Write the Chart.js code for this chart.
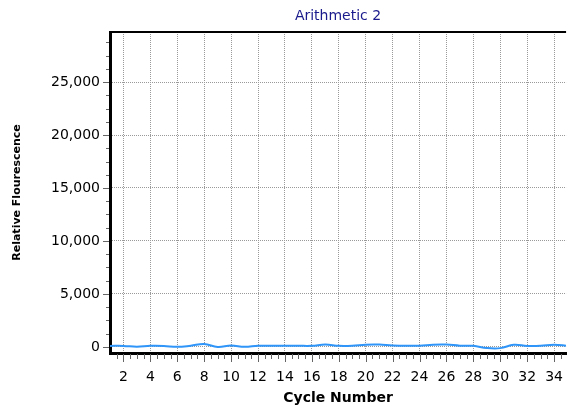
<!DOCTYPE html>
<html>
<head>
<meta charset="utf-8">
<script src="https://cdn.jsdelivr.net/npm/chart.js@4.4.1/dist/chart.umd.min.js"></script>
<style>
  html, body { margin: 0; padding: 0; background: #fff; }
  #wrap { width: 579px; height: 406px; }
</style>
</head>
<body>
<div id="wrap"><canvas id="chart"></canvas></div>
<script>
const cycles = [1,2,3,4,5,6,7,8,9,10,11,12,13,14,15,16,17,18,19,20,21,22,23,24,25,26,27,28,29,30,31,32,33,34,35];
const fluorescence = [100,100,20,110,100,10,120,280,0,130,10,110,110,110,110,110,230,110,120,220,230,130,120,120,220,230,120,110,-100,-110,200,100,110,200,110];
const xMajorTicks = [2,4,6,8,10,12,14,16,18,20,22,24,26,28,30,32,34];
const yMajorTicks = [0,5000,10000,15000,20000,25000];
const titleText = 'Arithmetic 2';

const FONT = "'DejaVu Sans', sans-serif";

// minor tick marks + top frame line, drawn off the scales
const frameTicks = {
  id: 'frame-ticks',
  afterDraw(chart) {
    const { ctx, chartArea: { top, bottom, left, right }, scales: { x, y } } = chart;
    ctx.save();
    ctx.fillStyle = '#000';
    ctx.fillRect(left, top - 1, right - left, 2);

    ctx.strokeStyle = '#666';
    ctx.lineWidth = 1;
    ctx.beginPath();
    for (let v = 1.5; v <= x.max; v += 0.5) {
      const px = Math.round(x.getPixelForValue(v)) + 0.5;
      const len = xMajorTicks.includes(v) ? 8 : 5;
      ctx.moveTo(px, bottom + 1);
      ctx.lineTo(px, bottom + 1 + len);
    }
    for (let v = 0; v <= y.max; v += 1250) {
      const py = Math.round(y.getPixelForValue(v)) + 0.5;
      const len = yMajorTicks.includes(v) ? 6 : 3;
      ctx.moveTo(left - 1, py);
      ctx.lineTo(left - 1 - len, py);
    }
    ctx.stroke();

    ctx.fillStyle = '#1a1a8c';
    ctx.font = `14px ${FONT}`;
    ctx.textAlign = 'center';
    ctx.textBaseline = 'middle';
    ctx.fillText(titleText, (left + right) / 2, 16);
    ctx.restore();
  }
};

new Chart(document.getElementById('chart'), {
  type: 'line',
  data: {
    labels: cycles,
    datasets: [{
      data: cycles.map((c, i) => ({ x: c, y: fluorescence[i] })),
      borderColor: '#2f95f8',
      borderWidth: 2,
      pointRadius: 0,
      tension: 0.4,
      fill: false
    }]
  },
  options: {
    responsive: true,
    maintainAspectRatio: false,
    animation: false,
    layout: { padding: { top: 32, right: 0, left: 0, bottom: 0 } },
    plugins: { legend: { display: false }, tooltip: { enabled: false } },
    scales: {
      x: {
        type: 'linear',
        min: 1,
        max: 34.89,
        afterBuildTicks: (scale) => { scale.ticks = xMajorTicks.map(v => ({ value: v })); },
        afterFit: (scale) => { scale.height = 53; },
        grid: { color: '#999', lineWidth: 1, drawTicks: false },
        border: { display: true, color: '#000', width: 3, dash: [1, 1] },
        ticks: {
          padding: 16,
          color: '#000',
          font: { family: FONT, size: 14 },
          maxRotation: 0,
          autoSkip: false,
          callback: (v) => String(v)
        },
        title: {
          display: true,
          text: 'Cycle Number',
          color: '#000',
          font: { family: FONT, size: 14, weight: 'bold' },
          padding: { top: 0, bottom: -1 }
        }
      },
      y: {
        min: -570,
        max: 29720,
        afterBuildTicks: (scale) => { scale.ticks = yMajorTicks.map(v => ({ value: v })); },
        afterFit: (scale) => { scale.width = 110; },
        grid: { color: '#999', lineWidth: 1, drawTicks: false },
        border: { display: true, color: '#000', width: 3, dash: [1, 1] },
        ticks: {
          padding: 10,
          color: '#000',
          font: { family: FONT, size: 14 },
          callback: (v) => v.toLocaleString('en-US')
        },
        title: {
          display: true,
          text: 'Relative Flourescence',
          color: '#000',
          font: { family: FONT, size: 11, weight: 'bold' },
          padding: { top: 11, bottom: 0 }
        }
      }
    }
  },
  plugins: [frameTicks]
});
</script>
</body>
</html>
